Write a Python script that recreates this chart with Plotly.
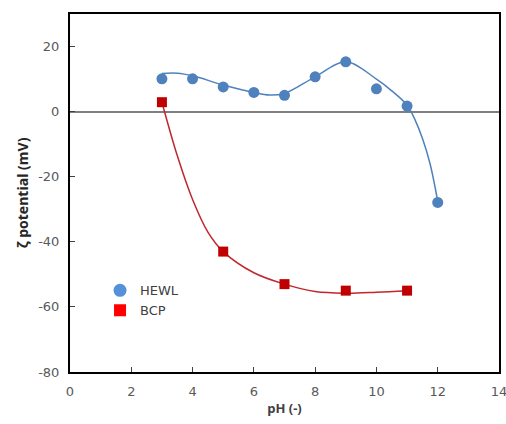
import plotly.graph_objects as go

# measured points
hewl_ph = [3, 4, 5, 6, 7, 8, 9, 10, 11, 12]
hewl_zeta = [10.1, 10.1, 7.6, 5.9, 5.0, 10.7, 15.3, 7.0, 1.7, -27.9]
bcp_ph = [3, 5, 7, 9, 11]
bcp_zeta = [2.9, -43.0, -53.0, -55.0, -55.0]

# trend curves
hewl_fit_ph = [3, 3.5, 4, 5, 6, 6.5, 7, 8, 9, 10, 10.5, 11, 11.25, 11.5, 11.75, 12]
hewl_fit_zeta = [11.7, 11.8, 11.0, 8.2, 5.9, 5.1, 5.6, 10.7, 15.3, 10.0, 6.4, 2.0, -2.3, -8.2, -16.0, -27.5]
bcp_fit_ph = [3, 3.5, 4, 4.5, 5, 6, 7, 8, 9, 10, 11]
bcp_fit_zeta = [2.9, -13.5, -27.0, -37.0, -43.0, -49.5, -53.0, -55.3, -55.8, -55.5, -55.0]

# tick labels
y_tickvals = [-80, -60, -40, -20, 0, 20]
y_ticktext = ["-80", "-60", "-40", "-20", "0", "20"]

fig = go.Figure()
fig.add_trace(go.Scatter(x=hewl_fit_ph, y=hewl_fit_zeta, mode="lines", line=dict(color="#4F81BD", width=1.5, shape="spline", smoothing=1.0),
                         showlegend=False, hoverinfo="skip"))
fig.add_trace(go.Scatter(x=bcp_fit_ph, y=bcp_fit_zeta, mode="lines", line=dict(color="#C0272D", width=1.5, shape="spline", smoothing=1.0),
                         showlegend=False, hoverinfo="skip"))
fig.add_trace(go.Scatter(x=hewl_ph, y=hewl_zeta, mode="markers", name="HEWL",
                         marker=dict(symbol="circle", size=11, color="#4F81BD"), showlegend=False))
fig.add_trace(go.Scatter(x=bcp_ph, y=bcp_zeta, mode="markers", name="BCP",
                         marker=dict(symbol="square", size=10, color="#C00000"), showlegend=False))
# legend entries
fig.add_trace(go.Scatter(x=[None], y=[None], mode="markers", name="HEWL",
                         marker=dict(symbol="circle", size=13, color="#5590DA")))
fig.add_trace(go.Scatter(x=[None], y=[None], mode="markers", name="BCP",
                         marker=dict(symbol="square", size=12, color="#FF0000")))

fig.update_layout(
    width=506, height=424,
    margin=dict(l=70, r=7, t=14, b=52),
    paper_bgcolor="white", plot_bgcolor="white",
    font=dict(family="DejaVu Sans", size=13, color="#595959"),
    legend=dict(x=0.07, y=0.27, xanchor="left", yanchor="top", bgcolor="rgba(0,0,0,0)",
                font=dict(family="DejaVu Sans", size=13, color="#404040"), tracegroupgap=0),
    xaxis=dict(range=[0, 14], dtick=2, showgrid=False, zeroline=False, automargin=False,
               showline=True, linecolor="black", linewidth=2, mirror=True,
               ticks="inside", ticklen=5, tickcolor="#404040",
               ticklabelstandoff=6, ticklabeloverflow="allow",
               title=dict(text="<b>pH (-)</b>", font=dict(family="Open Sans", size=13, color="#404040"), standoff=6)),
    yaxis=dict(range=[-80, 30], tickvals=y_tickvals, ticktext=y_ticktext, showgrid=False, automargin=False,
               zeroline=True, zerolinecolor="#7F7F7F", zerolinewidth=1.5,
               showline=True, linecolor="black", linewidth=2, mirror=True,
               ticks="inside", ticklen=5, tickcolor="#404040",
               ticklabelstandoff=6, ticklabeloverflow="allow",
               title=dict(text="<b>ζ potential (mV)</b>", font=dict(family="Open Sans", size=14, color="#262626"), standoff=6)),
)

fig.write_html("out.html")
